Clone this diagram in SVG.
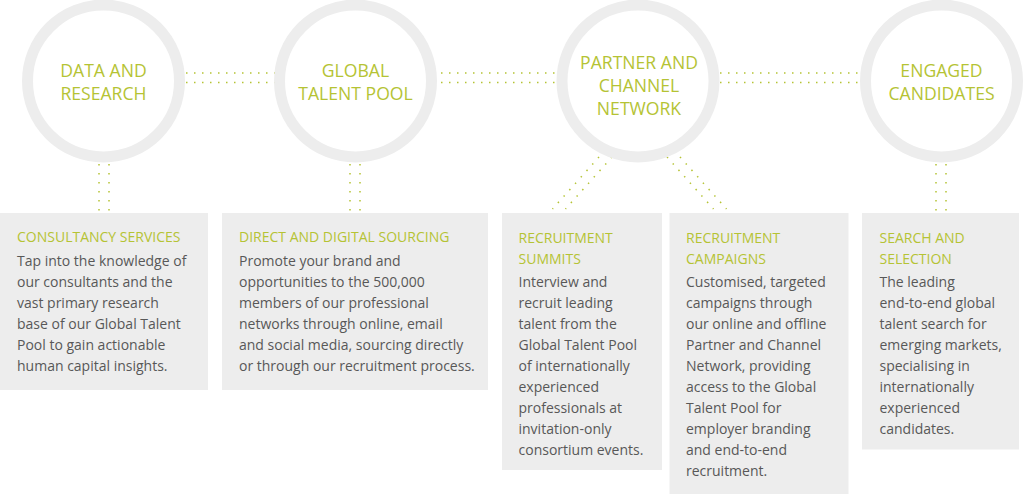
<svg xmlns="http://www.w3.org/2000/svg" width="1025" height="494" viewBox="0 0 1025 494">
<style>
.ring{fill:none;stroke:#ededed;stroke-width:11}
.box{fill:#ededed}
.ct{font-family:"Open Sans","Liberation Sans",sans-serif;font-size:17.6px;fill:#b5c334;text-anchor:middle}
.bt{font-family:"Open Sans","Liberation Sans",sans-serif;font-size:14px;fill:#b5c334}
.bd{font-family:"Open Sans","Liberation Sans",sans-serif;font-size:14px;fill:#585858}
.dh{stroke:#b5c334;stroke-width:1.5;stroke-dasharray:1.5 6.5;fill:none}
.dv{stroke:#b5c334;stroke-width:1.5;stroke-dasharray:1.5 7.5;fill:none}
.dd{stroke:#b5c334;stroke-width:1.5;stroke-dasharray:1.5 7.1;fill:none}
</style>
<rect width="1025" height="494" fill="#ffffff"/>
<g id="connectors">
<line class="dh" x1="186" y1="73" x2="275" y2="73"/>
<line class="dh" x1="186" y1="82.5" x2="275" y2="82.5"/>
<line class="dh" x1="441" y1="73" x2="558" y2="73"/>
<line class="dh" x1="441" y1="82.5" x2="558" y2="82.5"/>
<line class="dh" x1="720" y1="73" x2="861" y2="73"/>
<line class="dh" x1="720" y1="82.5" x2="861" y2="82.5"/>
<line class="dv" x1="99" y1="164" x2="99" y2="211"/>
<line class="dv" x1="109" y1="164" x2="109" y2="211"/>
<line class="dv" x1="350" y1="164" x2="350" y2="211"/>
<line class="dv" x1="360" y1="164" x2="360" y2="211"/>
<line class="dv" x1="936" y1="164" x2="936" y2="211"/>
<line class="dv" x1="946" y1="164" x2="946" y2="211"/>
<line class="dd" x1="599" y1="157" x2="552.5" y2="209"/>
<line class="dd" x1="612" y1="157" x2="565.5" y2="209"/>
<line class="dd" x1="667" y1="157" x2="713.5" y2="209"/>
<line class="dd" x1="680" y1="157" x2="726.5" y2="209"/>
</g>
<g id="n-data">
<circle class="ring" cx="103.5" cy="81" r="76"/>
<text class="ct" x="103.5" y="77">DATA AND</text>
<text class="ct" x="103.5" y="100">RESEARCH</text>
</g>
<g id="n-pool">
<circle class="ring" cx="355.5" cy="81" r="76"/>
<text class="ct" x="355.5" y="77">GLOBAL</text>
<text class="ct" x="355.5" y="100">TALENT POOL</text>
</g>
<g id="n-partner">
<circle class="ring" cx="638" cy="81" r="76"/>
<text class="ct" x="639" y="69">PARTNER AND</text>
<text class="ct" x="639" y="92">CHANNEL</text>
<text class="ct" x="639" y="115">NETWORK</text>
</g>
<g id="n-engaged">
<circle class="ring" cx="941.5" cy="81" r="76"/>
<text class="ct" x="941.5" y="77">ENGAGED</text>
<text class="ct" x="941.5" y="100">CANDIDATES</text>
</g>
<g id="b-consultancy">
<rect class="box" x="0" y="213" width="208" height="177"/>
<text class="bt" x="17" y="242">CONSULTANCY SERVICES</text>
<text class="bd" x="17" y="266">Tap into the knowledge of</text>
<text class="bd" x="17" y="287">our consultants and the</text>
<text class="bd" x="17" y="308">vast primary research</text>
<text class="bd" x="17" y="329">base of our Global Talent</text>
<text class="bd" x="17" y="350">Pool to gain actionable</text>
<text class="bd" x="17" y="371">human capital insights.</text>
</g>
<g id="b-sourcing">
<rect class="box" x="222" y="213" width="266" height="177"/>
<text class="bt" x="239" y="242">DIRECT AND DIGITAL SOURCING</text>
<text class="bd" x="239" y="266">Promote your brand and</text>
<text class="bd" x="239" y="287">opportunities to the 500,000</text>
<text class="bd" x="239" y="308">members of our professional</text>
<text class="bd" x="239" y="329">networks through online, email</text>
<text class="bd" x="239" y="350">and social media, sourcing directly</text>
<text class="bd" x="239" y="371">or through our recruitment process.</text>
</g>
<g id="b-summits">
<rect class="box" x="502" y="213" width="160" height="257"/>
<text class="bt" x="518.5" y="243">RECRUITMENT</text>
<text class="bt" x="518.5" y="264">SUMMITS</text>
<text class="bd" x="518.5" y="287">Interview and</text>
<text class="bd" x="518.5" y="308">recruit leading</text>
<text class="bd" x="518.5" y="329">talent from the</text>
<text class="bd" x="518.5" y="350">Global Talent Pool</text>
<text class="bd" x="518.5" y="371">of internationally</text>
<text class="bd" x="518.5" y="392">experienced</text>
<text class="bd" x="518.5" y="413">professionals at</text>
<text class="bd" x="518.5" y="434">invitation-only</text>
<text class="bd" x="518.5" y="455">consortium events.</text>
</g>
<g id="b-campaigns">
<rect class="box" x="669.5" y="213" width="179" height="281"/>
<text class="bt" x="686" y="243">RECRUITMENT</text>
<text class="bt" x="686" y="264">CAMPAIGNS</text>
<text class="bd" x="686" y="287">Customised, targeted</text>
<text class="bd" x="686" y="308">campaigns through</text>
<text class="bd" x="686" y="329">our online and offline</text>
<text class="bd" x="686" y="350">Partner and Channel</text>
<text class="bd" x="686" y="371">Network, providing</text>
<text class="bd" x="686" y="392">access to the Global</text>
<text class="bd" x="686" y="413">Talent Pool for</text>
<text class="bd" x="686" y="434">employer branding</text>
<text class="bd" x="686" y="455">and end-to-end</text>
<text class="bd" x="686" y="476">recruitment.</text>
</g>
<g id="b-search">
<rect class="box" x="862" y="213" width="157" height="236.5"/>
<text class="bt" x="879.5" y="243">SEARCH AND</text>
<text class="bt" x="879.5" y="264">SELECTION</text>
<text class="bd" x="879.5" y="287">The leading</text>
<text class="bd" x="879.5" y="308">end-to-end global</text>
<text class="bd" x="879.5" y="329">talent search for</text>
<text class="bd" x="879.5" y="350">emerging markets,</text>
<text class="bd" x="879.5" y="371">specialising in</text>
<text class="bd" x="879.5" y="392">internationally</text>
<text class="bd" x="879.5" y="413">experienced</text>
<text class="bd" x="879.5" y="434">candidates.</text>
</g>
</svg>
